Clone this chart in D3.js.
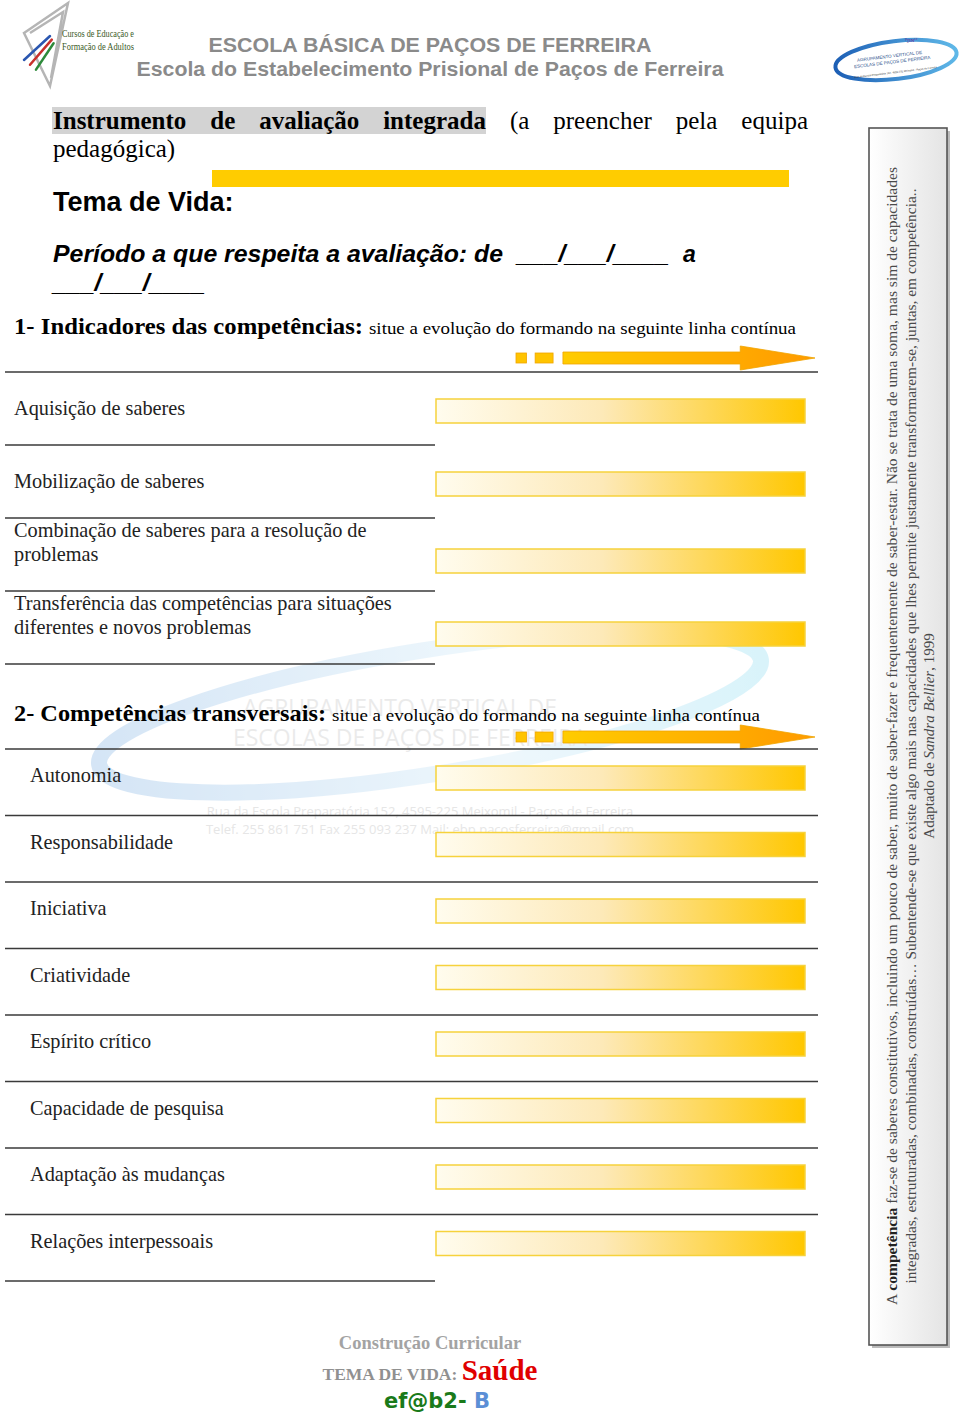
<!DOCTYPE html>
<html>
<head>
<meta charset="utf-8">
<script src="https://cdn.jsdelivr.net/npm/d3@7"></script>
<style>
  body { margin: 0; background: #fff; }
  svg { display: block; }
</style>
</head>
<body>
<div id="page"></div>
<script>
// Texts of the form
var schoolLines = ["ESCOLA BÁSICA DE PAÇOS DE FERREIRA", "Escola do Estabelecimento Prisional de Paços de Ferreira"];
var logoLines = ["Cursos de Educação e", "Formação de Adultos"];
var titleBold = ["Instrumento", "de", "avaliação", "integrada"];
var titleRest = ["(a", "preencher", "pela", "equipa"];
var indicators = [
  ["Aquisição de saberes"],
  ["Mobilização de saberes"],
  ["Combinação de saberes para a resolução de", "problemas"],
  ["Transferência das competências para situações", "diferentes e novos problemas"]
];
var transversal = ["Autonomia", "Responsabilidade", "Iniciativa", "Criatividade",
  "Espírito crítico", "Capacidade de pesquisa", "Adaptação às mudanças", "Relações interpessoais"];
var sideNote = [
  "A competência faz-se de saberes constitutivos, incluindo um pouco de saber, muito de saber-fazer e frequentemente de saber-estar. Não se trata de uma soma, mas sim de capacidades",
  "integradas, estruturadas, combinadas, construídas… Subentende-se que existe algo mais nas capacidades que lhes permite justamente transformarem-se, juntas, em competência..",
  "Adaptado de Sandra Bellier, 1999"
];
// continuum scale: every bar spans 0..100
var continuum = [0, 100];

var W = 960, H = 1418;
var svg = d3.select('#page').append('svg').attr('width', W).attr('height', H);
var defs = svg.append('defs');

var barGrad = defs.append('linearGradient').attr('id', 'barGrad');
barGrad.append('stop').attr('offset', '0%').attr('stop-color', '#fffcee');
barGrad.append('stop').attr('offset', '45%').attr('stop-color', '#fde9b8');
barGrad.append('stop').attr('offset', '100%').attr('stop-color', '#ffc700');

var arrowGrad = defs.append('linearGradient').attr('id', 'arrowGrad');
arrowGrad.append('stop').attr('offset', '0%').attr('stop-color', '#ffcc00');
arrowGrad.append('stop').attr('offset', '100%').attr('stop-color', '#ff9a00');

var boxGrad = defs.append('linearGradient').attr('id', 'boxGrad');
boxGrad.append('stop').attr('offset', '0%').attr('stop-color', '#ffffff');
boxGrad.append('stop').attr('offset', '100%').attr('stop-color', '#e4e4e4');

var swooshGrad = defs.append('linearGradient').attr('id', 'swoosh');
swooshGrad.append('stop').attr('offset', '0%').attr('stop-color', '#9cc3ea');
swooshGrad.append('stop').attr('offset', '60%').attr('stop-color', '#d8eefa');
swooshGrad.append('stop').attr('offset', '100%').attr('stop-color', '#a6e4f5');

var logoGrad = defs.append('linearGradient').attr('id', 'logoGrad');
logoGrad.append('stop').attr('offset', '0%').attr('stop-color', '#1d5fb5');
logoGrad.append('stop').attr('offset', '100%').attr('stop-color', '#5fb8e8');

var serif = "'Liberation Serif', 'DejaVu Serif', serif";
var sans = "'Liberation Sans', Arial, sans-serif";

// ---- watermark
var wm = svg.append('g').attr('opacity', 0.42);
wm.append('ellipse')
  .attr('transform', 'translate(430,712) rotate(-9)')
  .attr('rx', 335).attr('ry', 62)
  .attr('fill', 'none').attr('stroke', 'url(#swoosh)').attr('stroke-width', 16);
wm.append('text').attr('x', 400).attr('y', 716).attr('text-anchor', 'middle')
  .attr('font-family', "'Open Sans', sans-serif").attr('font-size', 23).attr('fill', '#cfcfcf')
  .text('AGRUPAMENTO VERTICAL DE');
wm.append('text').attr('x', 410).attr('y', 746).attr('text-anchor', 'middle')
  .attr('font-family', "'Open Sans', sans-serif").attr('font-size', 23).attr('fill', '#cfcfcf')
  .text('ESCOLAS DE PAÇOS DE FERREIRA');
wm.append('text').attr('x', 420).attr('y', 816).attr('text-anchor', 'middle')
  .attr('font-family', "'Open Sans', sans-serif").attr('font-size', 13).attr('fill', '#c4c4c4')
  .text('Rua da Escola Preparatória 152, 4595-225 Meixomil - Paços de Ferreira');
wm.append('text').attr('x', 420).attr('y', 834).attr('text-anchor', 'middle')
  .attr('font-family', "'Open Sans', sans-serif").attr('font-size', 13).attr('fill', '#c4c4c4')
  .text('Telef. 255 861 751   Fax 255 093 237   Mail: ebp.pacosferreira@gmail.com');

// ---- header: left logo
var logo = svg.append('g');
logo.append('path').attr('d', 'M24,33 L68,3 L50,86 Z M30,33 L63,12 L51,78')
  .attr('fill', 'none').attr('stroke', '#b5b5b5').attr('stroke-width', 2.5);
[['#2a56b0', 0], ['#c8302c', 6], ['#2d8a3a', 12]].forEach(function(c) {
  logo.append('line').attr('x1', 24 + c[1]).attr('y1', 60 + c[1] * 0.8)
    .attr('x2', 50 + c[1] * 0.3).attr('y2', 36 + c[1] * 0.6)
    .attr('stroke', c[0]).attr('stroke-width', 2.5).attr('stroke-linecap', 'round');
});
logo.selectAll('text.logo').data(logoLines).enter().append('text')
  .attr('class', 'logo')
  .attr('x', 62).attr('y', function(d, i) { return 37 + i * 13; })
  .attr('font-family', serif).attr('font-size', 11).attr('fill', '#3b5a26')
  .attr('textLength', 72)
  .attr('lengthAdjust', 'spacingAndGlyphs')
  .text(function(d) { return d; });

svg.selectAll('text.school').data(schoolLines).enter().append('text')
  .attr('class', 'school')
  .attr('x', 430).attr('y', function(d, i) { return 52 + i * 24; })
  .attr('text-anchor', 'middle')
  .attr('font-family', sans).attr('font-weight', 'bold').attr('font-size', 20)
  .attr('fill', '#8a8a8a')
  .attr('textLength', function(d, i) { return i ? 587 : 443; })
  .attr('lengthAdjust', 'spacingAndGlyphs')
  .text(function(d) { return d; });

// right logo
var rl = svg.append('g').attr('transform', 'translate(896,60) rotate(-7)');
rl.append('ellipse').attr('rx', 61).attr('ry', 19).attr('fill', 'none')
  .attr('stroke', 'url(#logoGrad)').attr('stroke-width', 4);
rl.append('text').attr('x', -6).attr('y', -3).attr('text-anchor', 'middle')
  .attr('font-family', sans).attr('font-size', 4.5).attr('fill', '#2a4f8a')
  .text('AGRUPAMENTO VERTICAL DE');
rl.append('text').attr('x', -4).attr('y', 3).attr('text-anchor', 'middle')
  .attr('font-family', sans).attr('font-size', 4.5).attr('fill', '#2a4f8a')
  .text('ESCOLAS DE PAÇOS DE FERREIRA');
rl.append('text').attr('x', -2).attr('y', 13).attr('text-anchor', 'middle')
  .attr('font-family', sans).attr('font-size', 2.6).attr('fill', '#333')
  .text('Rua da Escola Preparatória 152, 4595-225 Meixomil - Paços de Ferreira');
svg.append('text').attr('x', 905).attr('y', 42).attr('font-family', serif)
  .attr('font-size', 7).attr('fill', '#6b3aa0').text('ᵖɲɴᵉʳ');

// ---- title block, justified across the text column
svg.append('rect').attr('x', 52).attr('y', 107).attr('width', 434).attr('height', 27).attr('fill', '#d3d3d3');
var titleWords = titleBold.map(function(w) { return {w: w, b: true}; })
  .concat(titleRest.map(function(w) { return {w: w, b: false}; }));
var tw = svg.selectAll('text.tw').data(titleWords).enter().append('text')
  .attr('class', 'tw').attr('y', 129)
  .attr('font-family', serif).attr('font-size', 25)
  .attr('font-weight', function(d) { return d.b ? 'bold' : 'normal'; })
  .text(function(d) { return d.w; });
var widths = [];
tw.each(function() { widths.push(this.getComputedTextLength()); });
var gap = (808 - 53 - d3.sum(widths)) / (widths.length - 1);
var cx = 53;
tw.attr('x', function(d, i) { var v = cx; cx += widths[i] + gap; return v; });

svg.append('text').attr('x', 53).attr('y', 157)
  .attr('font-family', serif).attr('font-size', 25)
  .text('pedagógica)');

svg.append('rect').attr('x', 212).attr('y', 170).attr('width', 577).attr('height', 17).attr('fill', '#ffcc00');

svg.append('text').attr('x', 53).attr('y', 211)
  .attr('font-family', sans).attr('font-weight', 'bold').attr('font-size', 27)
  .text('Tema de Vida:');

svg.append('text').attr('x', 53).attr('y', 262)
  .attr('font-family', sans).attr('font-weight', 'bold').attr('font-style', 'italic').attr('font-size', 23)
  .attr('textLength', 450).attr('lengthAdjust', 'spacingAndGlyphs')
  .text('Período a que respeita a avaliação: de');
svg.append('text').attr('x', 517).attr('y', 262)
  .attr('font-family', sans).attr('font-weight', 'bold').attr('font-style', 'italic').attr('font-size', 23)
  .attr('textLength', 152).attr('lengthAdjust', 'spacingAndGlyphs')
  .text('___/___/____');
svg.append('text').attr('x', 683).attr('y', 262)
  .attr('font-family', sans).attr('font-weight', 'bold').attr('font-style', 'italic').attr('font-size', 23)
  .text('a');
svg.append('text').attr('x', 53).attr('y', 291)
  .attr('font-family', sans).attr('font-weight', 'bold').attr('font-style', 'italic').attr('font-size', 23)
  .attr('textLength', 152).attr('lengthAdjust', 'spacingAndGlyphs')
  .text('___/___/____');

// ---- shared scales
var x = d3.scaleLinear().domain(continuum).range([436, 805]);
var arrowX = d3.scaleLinear().domain([0, 1]).range([516, 815]);

function sectionHeader(y, bold, boldEnd, rest, restEnd) {
  svg.append('text').attr('x', 14).attr('y', y)
    .attr('font-family', serif).attr('font-weight', 'bold').attr('font-size', 23)
    .attr('textLength', boldEnd - 14).attr('lengthAdjust', 'spacingAndGlyphs')
    .text(bold);
  svg.append('text').attr('x', boldEnd + 6).attr('y', y)
    .attr('font-family', serif).attr('font-size', 17.5)
    .attr('textLength', restEnd - boldEnd - 6).attr('lengthAdjust', 'spacingAndGlyphs')
    .text(rest);
}

function arrow(cy) {
  var g = svg.append('g').attr('stroke', '#f0a500').attr('stroke-width', 0.8);
  g.append('rect').attr('x', arrowX(0)).attr('y', cy - 5).attr('width', arrowX(0.035) - arrowX(0)).attr('height', 10).attr('fill', '#ffc400');
  g.append('rect').attr('x', arrowX(0.064)).attr('y', cy - 5).attr('width', arrowX(0.124) - arrowX(0.064)).attr('height', 10).attr('fill', '#ffc400');
  var p = d3.path();
  p.moveTo(arrowX(0.157), cy - 6);
  p.lineTo(arrowX(0.75), cy - 6);
  p.lineTo(arrowX(0.75), cy - 12);
  p.lineTo(arrowX(1), cy);
  p.lineTo(arrowX(0.75), cy + 12);
  p.lineTo(arrowX(0.75), cy + 6);
  p.lineTo(arrowX(0.157), cy + 6);
  p.closePath();
  g.append('path').attr('d', p.toString()).attr('fill', 'url(#arrowGrad)');
}

function bar(top) {
  svg.append('rect')
    .attr('x', x(continuum[0])).attr('y', top)
    .attr('width', x(continuum[1]) - x(continuum[0])).attr('height', 24)
    .attr('fill', 'url(#barGrad)').attr('stroke', '#f6d23c').attr('stroke-width', 1.5);
}

function rule(y, x2) {
  svg.append('line').attr('x1', 5).attr('x2', x2).attr('y1', y).attr('y2', y)
    .attr('stroke', '#3a3a3a').attr('stroke-width', 1.4);
}

// ---- section 1
sectionHeader(334, '1- Indicadores das competências:', 363, 'situe a evolução do formando na seguinte linha contínua', 796);
arrow(358);
var y1 = d3.scaleLinear().domain([0, indicators.length]).range([372, 664]);
rule(y1(0), 818);
indicators.forEach(function(lines, i) {
  var top = y1(i);
  var t = svg.append('text').attr('font-family', serif).attr('font-size', 20.3).attr('fill', '#222');
  lines.forEach(function(l, j) {
    t.append('tspan').attr('x', 14)
      .attr('y', lines.length > 1 ? top + 19 + j * 24 : top + 43)
      .text(l);
  });
  bar(lines.length > 1 ? top + 31 : top + 27);
  rule(y1(i + 1), 435);
});

// ---- section 2
sectionHeader(721, '2- Competências transversais:', 326, 'situe a evolução do formando na seguinte linha contínua', 760);
arrow(737);
var y2 = d3.scaleLinear().domain([0, transversal.length]).range([749, 1281]);
rule(y2(0), 818);
transversal.forEach(function(label, i) {
  var top = y2(i);
  svg.append('text').attr('x', 30).attr('y', top + 33)
    .attr('font-family', serif).attr('font-size', 20.3).attr('fill', '#222')
    .text(label);
  bar(top + 17);
  rule(y2(i + 1), i === transversal.length - 1 ? 435 : 818);
});

// ---- side box
svg.append('rect').attr('x', 872).attr('y', 131).attr('width', 78).attr('height', 1217).attr('fill', '#bbb');
svg.append('rect').attr('x', 869).attr('y', 128).attr('width', 78).attr('height', 1217)
  .attr('fill', 'url(#boxGrad)').attr('stroke', '#555').attr('stroke-width', 1.6);
var sideX = [897, 916, 934];
var sideLen = [1138, 1095, null];
sideNote.forEach(function(line, i) {
  var t = svg.append('text')
    .attr('transform', 'translate(' + sideX[i] + ',736) rotate(-90)')
    .attr('text-anchor', 'middle')
    .attr('font-family', serif).attr('font-size', 15).attr('fill', '#4a4a4a');
  if (sideLen[i]) t.attr('textLength', sideLen[i]).attr('lengthAdjust', 'spacingAndGlyphs');
  if (i === 0) {
    t.append('tspan').text('A ');
    t.append('tspan').attr('font-weight', 'bold').attr('fill', '#222').text('competência');
    t.append('tspan').text(line.slice('A competência'.length));
  } else if (i === 2) {
    t.append('tspan').text('Adaptado de ');
    t.append('tspan').attr('font-style', 'italic').text('Sandra Bellier');
    t.append('tspan').text(', 1999');
  } else {
    t.text(line);
  }
});

// ---- footer
svg.append('text').attr('x', 430).attr('y', 1349).attr('text-anchor', 'middle')
  .attr('font-family', serif).attr('font-weight', 'bold').attr('font-size', 18.5).attr('fill', '#a3a3a3')
  .text('Construção Curricular');
var f2 = svg.append('text').attr('x', 430).attr('y', 1380).attr('text-anchor', 'middle')
  .attr('font-family', serif).attr('font-weight', 'bold');
f2.append('tspan').attr('font-size', 17.5).attr('fill', '#909090').text('TEMA DE VIDA: ');
f2.append('tspan').attr('font-size', 29).attr('fill', '#e00000').text('Saúde');
var f3 = svg.append('text').attr('x', 437).attr('y', 1408).attr('text-anchor', 'middle')
  .attr('font-family', "'DejaVu Sans', sans-serif").attr('font-weight', 'bold').attr('font-size', 21);
f3.append('tspan').attr('fill', '#1a7a1a').text('ef@b2- ');
f3.append('tspan').attr('fill', '#5b8fd6').text('B');
</script>
</body>
</html>
